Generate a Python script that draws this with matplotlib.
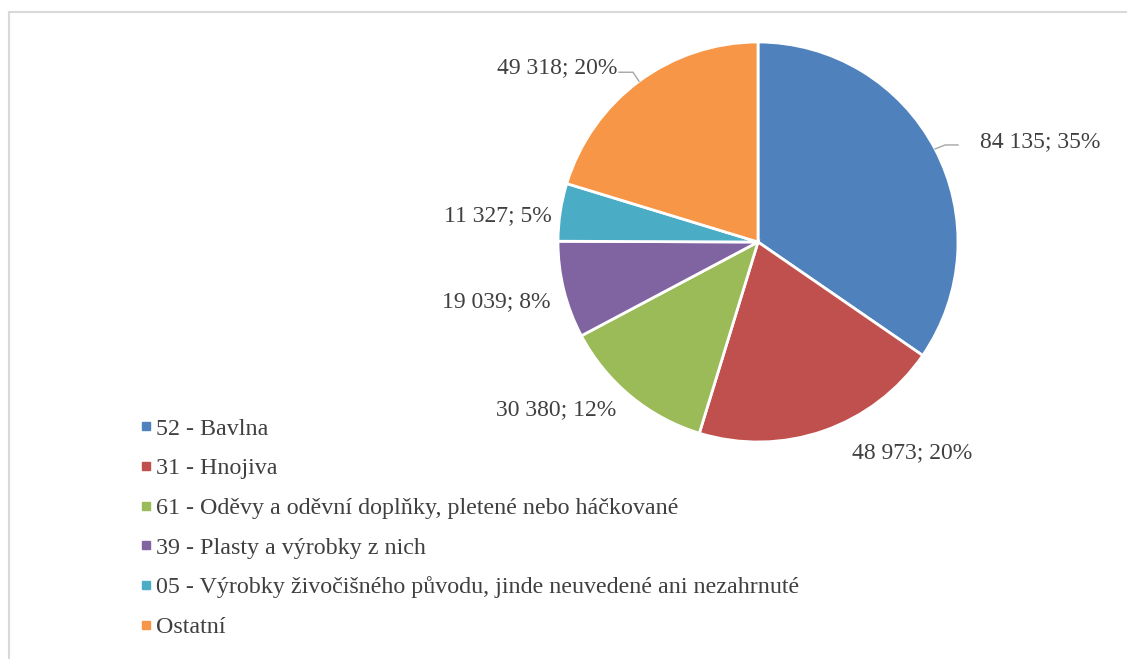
import numpy as np
import matplotlib.pyplot as plt
from matplotlib.lines import Line2D

labels = ['52 - Bavlna', '31 - Hnojiva',
          '61 - Oděvy a oděvní doplňky, pletené nebo háčkované',
          '39 - Plasty a výrobky z nich',
          '05 - Výrobky živočišného původu, jinde neuvedené ani nezahrnuté',
          'Ostatní']
values = [84135, 48973, 30380, 19039, 11327, 49318]
colors = ['#4F81BD', '#C0504D', '#9BBB59', '#8064A2', '#4BACC6', '#F79646']

# label placement (data coords, pie radius = 1), set by hand like in Excel
label_pos = [(1.11, 0.50), (0.77, -1.055), (-1.01, -0.84),
             (-1.04, -0.30), (-1.03, 0.13), (-0.705, 0.87)]
label_ha = ['left', 'center', 'center', 'right', 'right', 'right']

plt.rcParams['font.family'] = ['Liberation Serif', 'DejaVu Serif']
txt_col = '#404040'

fig = plt.figure(figsize=(11.27, 6.59), dpi=100)
W, H = 1127, 659
ax = fig.add_axes([(758 - 200) / W, (H - 442) / H, 400 / W, 400 / H])
wedges, _ = ax.pie(values, colors=colors, startangle=90, counterclock=False,
                   wedgeprops=dict(edgecolor='white', linewidth=2))
ax.set_xlim(-1, 1)
ax.set_ylim(-1, 1)
ax.set_aspect('equal')
ax.axis('off')

total = sum(values)
for i, w in enumerate(wedges):
    pct = round(values[i] / total * 100)
    s = '{:,}'.format(values[i]).replace(',', ' ') + '; ' + str(pct) + '%'
    x, y = label_pos[i]
    ax.text(x, y, s, ha=label_ha[i], va='center', fontsize=17, color=txt_col,
            clip_on=False)

# leader lines for blue and orange slices
w = wedges[0]
a = np.deg2rad((w.theta1 + w.theta2) / 2)
ex, ey = np.cos(a), np.sin(a)
ax.plot([ex, ex + 0.05, 1.0], [ey, ey + 0.02, ey + 0.02], color='#A6A6A6', lw=1, clip_on=False)
w = wedges[5]
a = np.deg2rad((w.theta1 + w.theta2) / 2)
ex, ey = np.cos(a), np.sin(a)
ax.plot([ex, ex - 0.03, ex - 0.1], [ey, ey + 0.045, ey + 0.045], color='#A6A6A6', lw=1, clip_on=False)

handles = [Line2D([], [], marker='s', ls='', color=c, markersize=5.5) for c in colors]
fig.legend(handles, labels, loc='upper left', bbox_to_anchor=(128 / W, 1 - 406 / H),
           frameon=False, fontsize=17.3, labelcolor=txt_col, handlelength=0.5,
           handletextpad=0.15, labelspacing=0.74, borderpad=0)

# chart area border
fig.add_artist(Line2D([8.5 / W, 1], [1 - 11.5 / H, 1 - 11.5 / H], color='#D9D9D9', lw=1.5))
fig.add_artist(Line2D([8.5 / W, 8.5 / W], [0, 1 - 11.5 / H], color='#D9D9D9', lw=1.5))

fig.savefig('out.png', dpi=100)
